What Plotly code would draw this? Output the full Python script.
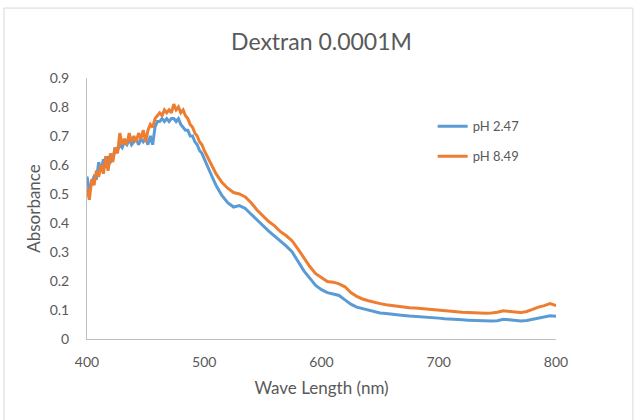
import plotly.graph_objects as go

# Wavelengths (nm)
wl_fine = [400 + 2 * i for i in range(51)]  # 400..500 step 2
wl_coarse = [505 + 5 * i for i in range(60)]  # 505..800 step 5
wavelength = wl_fine + wl_coarse

ph247 = [0.56, 0.51, 0.54, 0.56, 0.55, 0.61, 0.58, 0.62, 0.59, 0.63,
         0.61, 0.62, 0.66, 0.65, 0.67, 0.66, 0.68, 0.67, 0.69, 0.67,
         0.68, 0.69, 0.67, 0.69, 0.68, 0.69, 0.67, 0.70, 0.67, 0.73,
         0.75, 0.75, 0.76, 0.75, 0.76, 0.75, 0.76, 0.76, 0.75, 0.76,
         0.74, 0.73, 0.72, 0.72, 0.70, 0.70, 0.68, 0.67, 0.65, 0.64,
         0.62,
         0.575, 0.53, 0.495, 0.47, 0.455, 0.46, 0.45, 0.43, 0.41, 0.39,
         0.372, 0.355, 0.338, 0.32, 0.30, 0.265, 0.235, 0.21, 0.185, 0.17,
         0.16, 0.155, 0.15, 0.135, 0.12, 0.11, 0.105, 0.10, 0.095, 0.09,
         0.088, 0.085, 0.083, 0.081, 0.079, 0.078, 0.076, 0.074, 0.073, 0.072,
         0.070, 0.068, 0.067, 0.066, 0.065, 0.064, 0.063, 0.062, 0.062, 0.063,
         0.068, 0.066, 0.063, 0.062, 0.064, 0.068, 0.072, 0.077, 0.080, 0.078]

ph849 = [0.52, 0.48, 0.55, 0.53, 0.58, 0.56, 0.60, 0.57, 0.63, 0.58,
         0.64, 0.61, 0.66, 0.64, 0.71, 0.67, 0.69, 0.67, 0.71, 0.68,
         0.70, 0.68, 0.71, 0.69, 0.72, 0.68, 0.72, 0.74, 0.73, 0.76,
         0.77, 0.78, 0.77, 0.79, 0.78, 0.79, 0.78, 0.81, 0.79, 0.80,
         0.78, 0.79, 0.77, 0.76, 0.74, 0.73, 0.71, 0.70, 0.68, 0.67,
         0.65,
         0.61, 0.57, 0.54, 0.52, 0.505, 0.50, 0.49, 0.47, 0.445, 0.425,
         0.405, 0.39, 0.37, 0.356, 0.338, 0.31, 0.28, 0.25, 0.225, 0.21,
         0.198, 0.196, 0.19, 0.18, 0.16, 0.147, 0.138, 0.132, 0.126, 0.122,
         0.118, 0.115, 0.112, 0.110, 0.108, 0.107, 0.105, 0.102, 0.100, 0.098,
         0.096, 0.094, 0.093, 0.092, 0.091, 0.090, 0.090, 0.089, 0.090, 0.092,
         0.097, 0.096, 0.093, 0.091, 0.095, 0.102, 0.110, 0.115, 0.122, 0.115]

series_names = ["pH 2.47", "pH 8.49"]
colors = ["#5B9BD5", "#ED7D31"]
x_ticks = [400, 500, 600, 700, 800]

FONT = "Lato"
GREY = "#595959"

fig = go.Figure()
for name, vals, col in zip(series_names, [ph247, ph849], colors):
    fig.add_trace(go.Scatter(x=wavelength, y=vals, mode="lines", name=name,
                             legendgroup=name,
                             line=dict(color=col, width=3)))

fig.update_layout(
    width=635, height=420,
    margin=dict(l=87, r=79, t=78, b=81),
    paper_bgcolor="white", plot_bgcolor="white",
    font=dict(family=FONT, color=GREY, size=13),
    title=dict(text="Dextran 0.0001M", x=0.5, xref="paper", xanchor="center",
               y=1 - 42 / 420, yanchor="middle",
               font=dict(family=FONT, size=23, color=GREY)),
    legend=dict(x=0.737, y=0.872, xanchor="left", yanchor="top",
                bgcolor="rgba(0,0,0,0)", font=dict(size=13, color=GREY),
                traceorder="grouped", tracegroupgap=10, itemwidth=30),
    showlegend=True,
    shapes=[dict(type="rect", xref="paper", yref="paper",
                 x0=-0.177, x1=1.164, y0=-0.35, y1=1.268,
                 line=dict(color="#D9D9D9", width=1), fillcolor="rgba(0,0,0,0)",
                 layer="below")],
)

fig.update_xaxes(range=[400, 800], tickvals=x_ticks, showgrid=False, zeroline=False,
                 showline=True, linecolor="#BFBFBF", linewidth=1,
                 ticks="", ticklabelstandoff=10,
                 tickfont=dict(size=14, color=GREY),
                 title=dict(text="Wave Length (nm)", standoff=13,
                            font=dict(size=17, color=GREY)))
fig.update_yaxes(range=[0, 0.9], dtick=0.1, tick0=0, showgrid=False, zeroline=False,
                 showline=True, linecolor="#BFBFBF", linewidth=1,
                 ticks="", ticklabelstandoff=14,
                 tickfont=dict(size=14, color=GREY),
                 title=dict(text="Absorbance", standoff=4,
                            font=dict(size=17, color=GREY)))

fig.write_html("out.html")
